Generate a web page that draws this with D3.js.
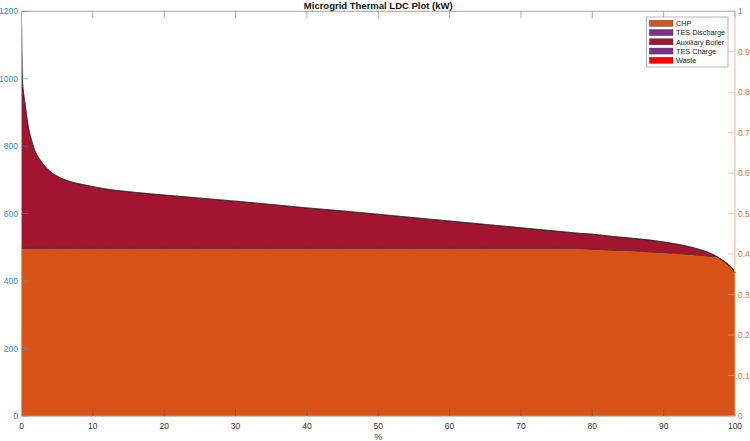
<!DOCTYPE html>
<html>
<head>
<meta charset="utf-8">
<script src="https://cdn.jsdelivr.net/npm/d3@7"></script>
<style>
  body { margin: 0; background: #fff; }
  svg { display: block; font-family: "Liberation Sans", Arial, sans-serif; }
</style>
</head>
<body>
<div id="chart"></div>
<script>
// Load duration curve, sorted share of hours (%)
const pct = [0, 0.05, 0.12, 0.3, 0.5, 0.8, 1.0, 1.4, 1.9, 2.4, 3, 4, 5, 6, 7, 8.4, 10, 12.5, 15,
  20, 25, 30, 35, 40, 45, 50, 55, 60, 65, 70, 75, 78, 80, 83, 86, 88, 90, 92, 94, 95, 96, 97,
  97.5, 98, 98.5, 99, 99.5, 100];

// Series values (kW), stacked bottom to top
const chp = [497, 497, 497, 497, 497, 497, 497, 497, 497, 497, 497, 497, 497, 497, 497, 497, 497, 497, 497,
  497, 497, 497, 497, 497, 497, 497, 497, 497, 497, 497, 497, 497, 495, 492, 490, 487, 485, 482, 479, 477, 475, 473,
  472, 465, 458, 450, 440, 425];
const tesDischarge = [0, 0, 0, 0, 0, 0, 0, 0, 0, 0, 0, 0, 0, 0, 0, 0, 0, 0, 0,
  0, 0, 0, 0, 0, 0, 0, 0, 0, 0, 0, 0, 0, 0, 0, 0, 0, 0, 0, 0, 0, 0, 0,
  0, 0, 0, 0, 0, 0];
const auxBoiler = [683, 583, 503, 458, 428, 381, 355, 321, 288, 269, 251, 228, 214, 204, 197, 190, 183, 174, 168,
  158, 149, 140, 130, 120, 111, 101, 91, 81, 71, 61, 51, 45, 44, 40, 36, 35, 31, 27, 21, 17, 12, 5,
  0, 0, 0, 0, 0, 0];
const tesCharge = [0, 0, 0, 0, 0, 0, 0, 0, 0, 0, 0, 0, 0, 0, 0, 0, 0, 0, 0,
  0, 0, 0, 0, 0, 0, 0, 0, 0, 0, 0, 0, 0, 0, 0, 0, 0, 0, 0, 0, 0, 0, 0,
  0, 0, 0, 0, 0, 0];
const waste = [0, 0, 0, 0, 0, 0, 0, 0, 0, 0, 0, 0, 0, 0, 0, 0, 0, 0, 0,
  0, 0, 0, 0, 0, 0, 0, 0, 0, 0, 0, 0, 0, 0, 0, 0, 0, 0, 0, 0, 0, 0, 0,
  0, 0, 0, 0, 0, 0];

const seriesNames = ['CHP', 'TES Discharge', 'Auxiliary Boiler', 'TES Charge', 'Waste'];
const seriesColors = ['#D95319', '#7E2F8E', '#A2142F', '#7E2F8E', '#FF0000'];
const seriesValues = [chp, tesDischarge, auxBoiler, tesCharge, waste];

const xTicks = [0, 10, 20, 30, 40, 50, 60, 70, 80, 90, 100];
const yLeftTicks = [0, 200, 400, 600, 800, 1000, 1200];
const yRightTicks = [0, 0.1, 0.2, 0.3, 0.4, 0.5, 0.6, 0.7, 0.8, 0.9, 1];

const width = 750, height = 441;
const plotL = 21.5, plotR = 735, plotT = 11.3, plotB = 416;
const tickLen = 7;

const svg = d3.select('#chart').append('svg')
  .attr('width', width).attr('height', height);

const x = d3.scaleLinear().domain([0, 100]).range([plotL, plotR]);
const y = d3.scaleLinear().domain([0, 1200]).range([plotB, plotT]);
const yR = d3.scaleLinear().domain([0, 1]).range([plotB, plotT]);

// stacked table
const table = pct.map((p, i) => {
  const row = { p };
  seriesNames.forEach((n, k) => { row[n] = seriesValues[k][i]; });
  return row;
});
const stack = d3.stack().keys(seriesNames)(table);

const area = d3.area()
  .x(d => x(d.data.p))
  .y0(d => y(d[0]))
  .y1(d => y(d[1]))
  .curve(d3.curveMonotoneX);

svg.append('g').selectAll('path')
  .data(stack)
  .join('path')
  .attr('d', area)
  .attr('fill', (d, i) => seriesColors[i])
  .attr('stroke', '#222')
  .attr('stroke-width', 0.4)
  .attr('stroke-opacity', 0.7);

// box: top and bottom lines
svg.append('line').attr('x1', plotL).attr('x2', plotR).attr('y1', plotT).attr('y2', plotT)
  .attr('stroke', '#a6a6a6').attr('stroke-width', 1);
svg.append('line').attr('x1', plotL).attr('x2', plotR).attr('y1', plotB).attr('y2', plotB)
  .attr('stroke', '#a6a6a6').attr('stroke-width', 1);

// x ticks (inward, bottom and top)
const xg = svg.append('g');
xTicks.forEach(t => {
  xg.append('line').attr('x1', x(t)).attr('x2', x(t)).attr('y1', plotB).attr('y2', plotB - tickLen)
    .attr('stroke', '#555').attr('stroke-width', 0.6);
  xg.append('line').attr('x1', x(t)).attr('x2', x(t)).attr('y1', plotT).attr('y2', plotT + tickLen)
    .attr('stroke', '#777').attr('stroke-width', 0.6);
  xg.append('text').attr('x', x(t)).attr('y', 429)
    .attr('text-anchor', 'middle').attr('font-size', 8.5).attr('fill', '#333').text(t);
});
svg.append('text').attr('x', (plotL + plotR) / 2).attr('y', 440)
  .attr('text-anchor', 'middle').attr('font-size', 8.5).attr('fill', '#333').text('%');

// left axis
const lg = svg.append('g');
lg.append('line').attr('x1', plotL).attr('x2', plotL).attr('y1', plotT).attr('y2', plotB)
  .attr('stroke', '#7fb8e0').attr('stroke-width', 1);
yLeftTicks.forEach(t => {
  lg.append('line').attr('x1', plotL).attr('x2', plotL + tickLen).attr('y1', y(t)).attr('y2', y(t))
    .attr('stroke', '#4a8fc4').attr('stroke-width', 0.6);
  lg.append('text').attr('x', 18).attr('y', y(t) + 3)
    .attr('text-anchor', 'end').attr('font-size', 8.5).attr('fill', '#2f8ad0').text(t);
});

// right axis
const rg = svg.append('g');
rg.append('line').attr('x1', plotR).attr('x2', plotR).attr('y1', plotT).attr('y2', plotB)
  .attr('stroke', '#f2b894').attr('stroke-width', 1);
yRightTicks.forEach(t => {
  rg.append('line').attr('x1', plotR - tickLen).attr('x2', plotR).attr('y1', yR(t)).attr('y2', yR(t))
    .attr('stroke', '#eea27a').attr('stroke-width', 0.6);
  rg.append('text').attr('x', 738).attr('y', yR(t) + 3)
    .attr('text-anchor', 'start').attr('font-size', 8.5).attr('fill', '#e2733d').text(t);
});

// title
svg.append('text').attr('x', (plotL + plotR) / 2).attr('y', 8.5)
  .attr('text-anchor', 'middle').attr('font-size', 9.5).attr('font-weight', 'bold')
  .attr('fill', '#111').text('Microgrid Thermal LDC Plot (kW)');

// legend
const leg = svg.append('g');
leg.append('rect').attr('x', 646.5).attr('y', 17).attr('width', 81.5).attr('height', 50)
  .attr('fill', '#fff').attr('stroke', '#a6a6a6').attr('stroke-width', 0.8);
seriesNames.forEach((n, i) => {
  const cy = 23.3 + i * 9.25;
  leg.append('rect').attr('x', 649.5).attr('y', cy - 3).attr('width', 23.5).attr('height', 6)
    .attr('fill', seriesColors[i]).attr('stroke', '#333').attr('stroke-width', 0.4);
  leg.append('text').attr('x', 676).attr('y', cy + 2.7)
    .attr('font-size', 7.3).attr('fill', '#222').text(n);
});
</script>
</body>
</html>
